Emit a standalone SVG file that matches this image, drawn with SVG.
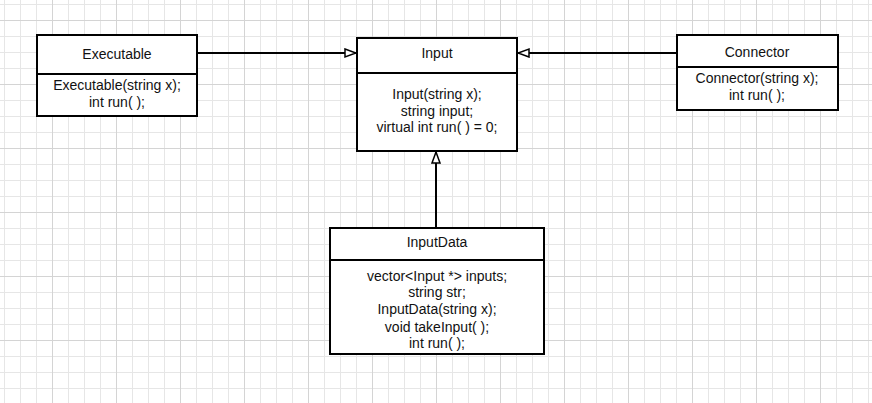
<svg xmlns="http://www.w3.org/2000/svg" width="872" height="403" viewBox="0 0 872 403">
  <defs>
    <pattern id="g" x="4" y="4" width="16" height="16" patternUnits="userSpaceOnUse">
      <path d="M0.5 0V16M0 0.5H16" stroke="#e6e6e6" stroke-width="1" fill="none"/>
    </pattern>
    <pattern id="G" x="52" y="20" width="64" height="64" patternUnits="userSpaceOnUse">
      <path d="M0.5 0V64M0 0.5H64" stroke="#d4d4d4" stroke-width="1" fill="none"/>
    </pattern>
    <marker id="tri" markerWidth="14" markerHeight="12" refX="12" refY="5" orient="auto" markerUnits="userSpaceOnUse">
      <path d="M1 1L12 5L1 9Z" fill="#fff" stroke="#000" stroke-width="1.5"/>
    </marker>
    <style>
      .box{fill:#fff;stroke:#000;stroke-width:2}
      .t{font-family:"Liberation Sans",Arial,sans-serif;font-size:14px;fill:#111;text-anchor:middle}
      .c{stroke:#000;stroke-width:2;fill:none}
    </style>
  </defs>
  <rect width="872" height="403" fill="#fff"/>
  <rect width="872" height="403" fill="url(#g)"/>
  <rect width="872" height="403" fill="url(#G)"/>

  <g id="connectors">
    <line class="c" x1="197" y1="53" x2="356" y2="53" marker-end="url(#tri)"/>
    <line class="c" x1="677" y1="53" x2="518" y2="53" marker-end="url(#tri)"/>
    <line class="c" x1="436" y1="228" x2="436" y2="152" marker-end="url(#tri)"/>
  </g>

  <g id="executable">
    <rect class="box" x="37" y="35" width="160" height="39"/>
    <rect class="box" x="37" y="74" width="160" height="42"/>
    <text class="t" x="117" y="58.5">Executable</text>
    <text class="t" x="117" y="90">Executable(string x);</text>
    <text class="t" x="117" y="106.5">int run( );</text>
  </g>

  <g id="input">
    <rect class="box" x="357" y="38" width="160" height="35"/>
    <rect class="box" x="357" y="73" width="160" height="78"/>
    <text class="t" x="437" y="58">Input</text>
    <text class="t" x="437" y="99">Input(string x);</text>
    <text class="t" x="437" y="115.5">string input;</text>
    <text class="t" x="437" y="132">virtual int run( ) = 0;</text>
  </g>

  <g id="connector">
    <rect class="box" x="677" y="35" width="161" height="32"/>
    <rect class="box" x="677" y="67" width="161" height="43"/>
    <text class="t" x="757" y="57">Connector</text>
    <text class="t" x="757" y="83">Connector(string x);</text>
    <text class="t" x="757" y="99.5">int run( );</text>
  </g>

  <g id="inputdata">
    <rect class="box" x="330" y="228" width="214" height="32"/>
    <rect class="box" x="330" y="260" width="214" height="94"/>
    <text class="t" x="437" y="247">InputData</text>
    <text class="t" x="437" y="280.5">vector&lt;Input *&gt; inputs;</text>
    <text class="t" x="437" y="297">string str;</text>
    <text class="t" x="437" y="314">InputData(string x);</text>
    <text class="t" x="437" y="331.5">void takeInput( );</text>
    <text class="t" x="437" y="348">int run( );</text>
  </g>
</svg>
